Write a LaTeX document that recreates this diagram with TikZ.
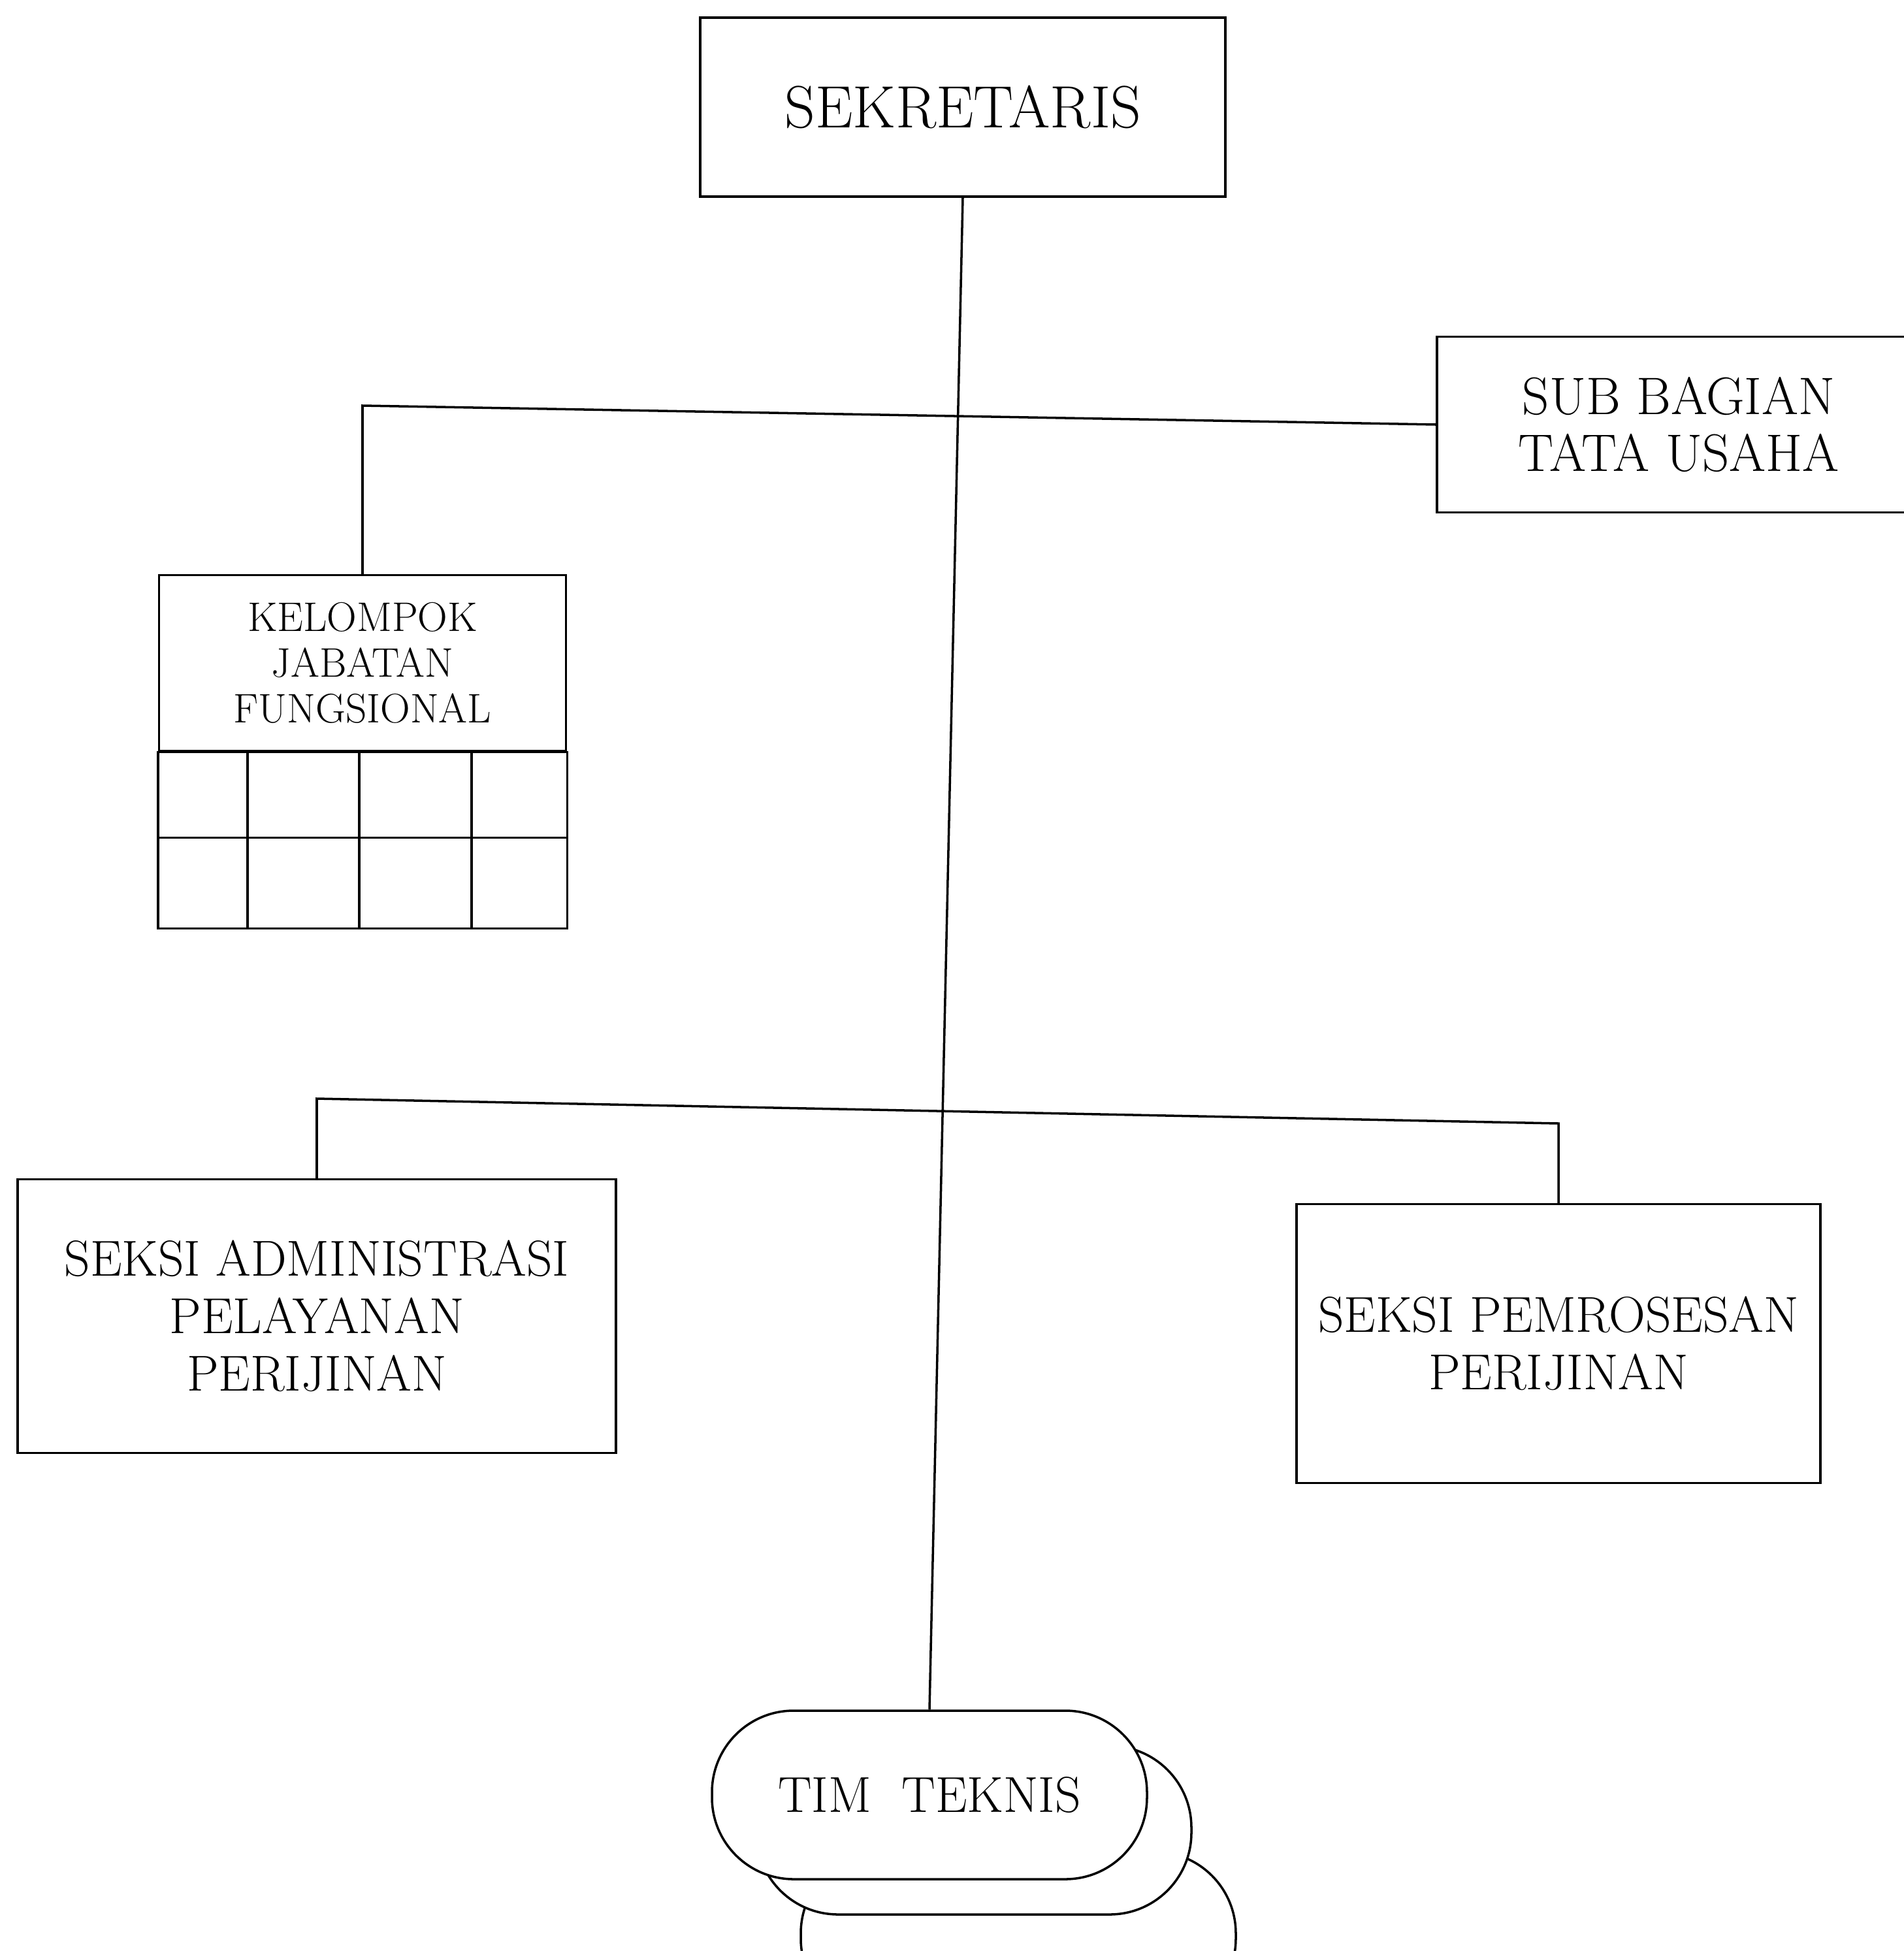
\documentclass[tikz,border=0pt]{standalone}
\usepackage{tikz}
\usetikzlibrary{positioning,calc}

\begin{document}
\begin{tikzpicture}[line width=1pt,
  b/.style={rectangle, draw, fill=white, align=center, inner sep=0pt,
            font=\fontsize{22}{25}\selectfont},
  tim/.style={rectangle, draw, fill=white, rounded corners=1.25cm,
              minimum width=6.66cm, minimum height=2.58cm, inner sep=0pt,
              font=\fontsize{22}{25}\selectfont}]
  \useasboundingbox (0,0) rectangle (29.14,-29.87);

  \node[b, minimum width=8.04cm, minimum height=2.74cm,
        font=\fontsize{26}{30}\selectfont] (sek) at (14.74,-1.64)
       {SEKRETARIS};
  \node[b, minimum width=7.4cm, minimum height=2.69cm,
        font=\fontsize{23}{25}\selectfont] (sub) at (25.70,-6.50)
       {SUB BAGIAN\\ TATA USAHA};
  \node[b, minimum width=6.23cm, minimum height=2.69cm,
        font=\fontsize{18}{20}\selectfont] (kjf) at (5.55,-10.15)
       {KELOMPOK\\ JABATAN\\ FUNGSIONAL};
  \node[b, minimum width=9.16cm, minimum height=4.19cm] (adm) at (4.85,-20.15)
       {SEKSI ADMINISTRASI\\ PELAYANAN\\ PERIJINAN};
  \node[b, minimum width=8.02cm, minimum height=4.27cm] (pem) at (23.86,-20.57)
       {SEKSI PEMROSESAN\\ PERIJINAN};

  % tim teknis, two copies behind
  \node[tim] (tim3) at (15.59,-29.64) {};
  \node[tim] (tim2) at (14.91,-28.02) {};
  \node[tim] (tim) at (14.23,-27.48) {TIM\ \ TEKNIS};

  % grid under kelompok jabatan fungsional
  \draw (kjf.south west) rectangle ($(kjf.south east)+(0,-2.70)$);
  \draw ($(kjf.south west)+(0,-1.31)$) -- ($(kjf.south east)+(0,-1.31)$);
  \foreach \x in {1.37,3.08,4.80}
    \draw ($(kjf.south west)+(\x,0)$) -- ++(0,-2.70);

  \coordinate (j1) at (5.55,-6.21);
  \coordinate (a1) at (4.85,-16.82);
  \coordinate (p1) at (23.86,-17.20);

  \draw (sek.south) -- (tim.north);
  \draw (kjf.north) -- (j1) -- (sub.west);
  \draw (adm.north) -- (a1) -- (p1) -- (pem.north);
\end{tikzpicture}
\end{document}
